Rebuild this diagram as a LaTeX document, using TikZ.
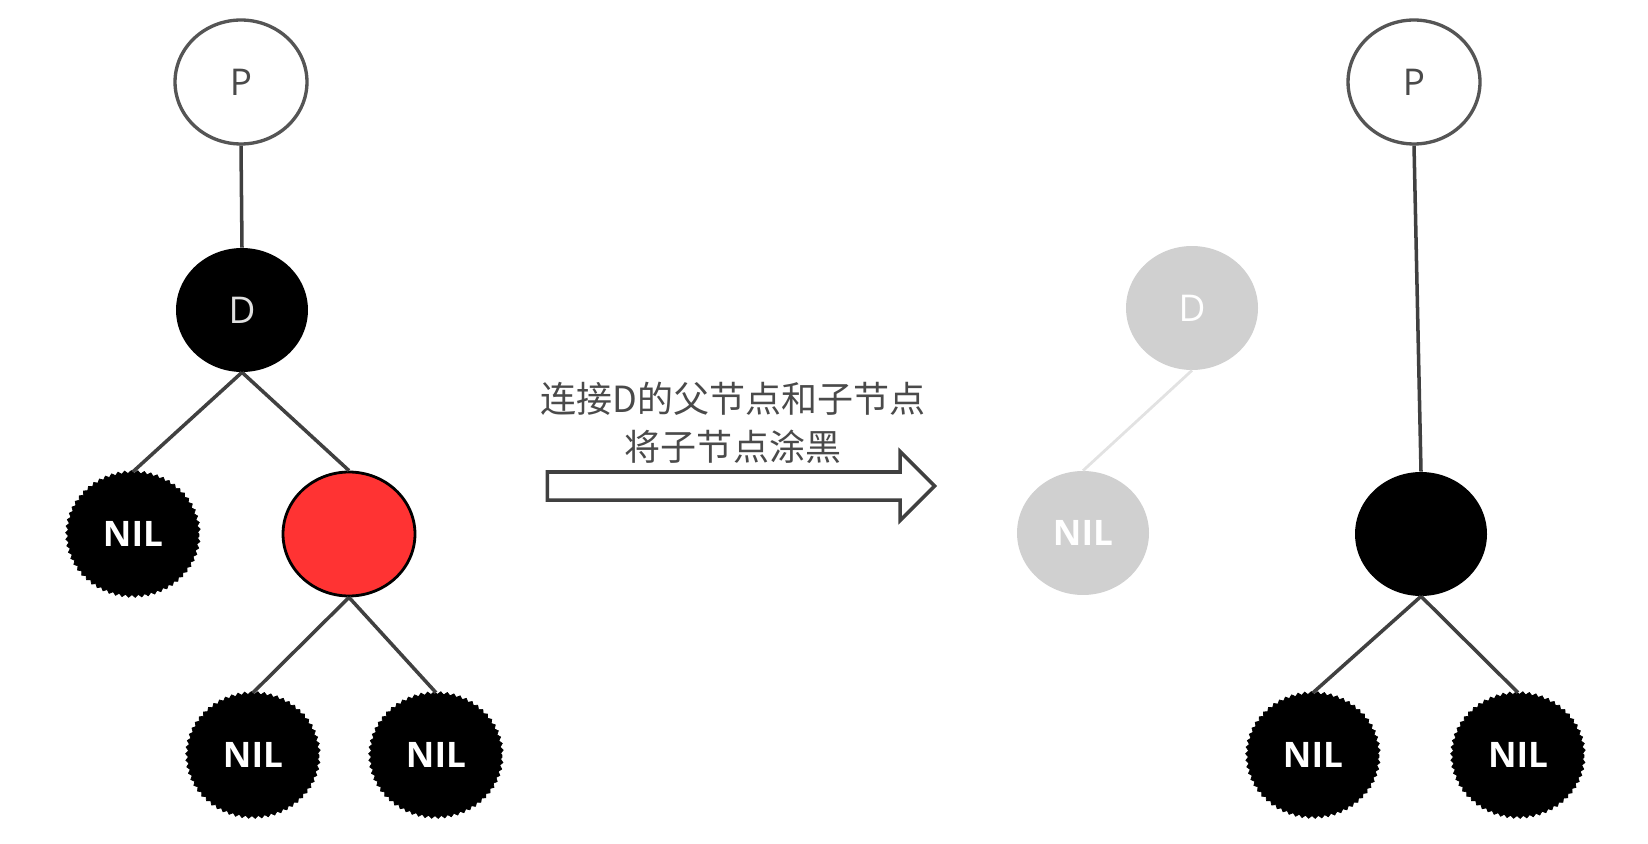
\documentclass[tikz,border=0pt]{standalone}
\usepackage{fontspec}
\newfontfamily\cjk{Noto Sans CJK SC}
\newfontfamily\lblfont{Open Sans}
\usetikzlibrary{shapes.geometric,shapes.arrows,decorations.pathmorphing}

\definecolor{edgegray}{HTML}{404040}
\definecolor{rimgray}{HTML}{555555}
\definecolor{nodered}{HTML}{FF3333}
\definecolor{fadegray}{HTML}{D0D0D0}
\definecolor{fadeline}{HTML}{E2E2E2}
\definecolor{txtgray}{HTML}{4A4A4A}

\tikzset{
  rbnode/.style={ellipse, minimum width=2.64cm, minimum height=2.48cm, inner sep=0pt,
    font=\lblfont\fontsize{21}{21}\selectfont},
  pnode/.style={rbnode, draw=rimgray, line width=1.9pt, fill=white, text=txtgray},
  blacknode/.style={rbnode, fill=black, text=white!88!black},
  rednode/.style={rbnode, draw=black, line width=1.6pt, fill=nodered},
  nilnode/.style={rbnode, fill=black, draw=black, text=white,
    font=\lblfont\bfseries\fontsize{20}{20}\selectfont,
    decorate, decoration={zigzag, segment length=1.3mm, amplitude=0.8pt}},
  ghost/.style={rbnode, fill=fadegray, text=white},
  link/.style={draw=edgegray, line width=2pt},
  ghostlink/.style={draw=fadeline, line width=1.6pt},
  blockarrow/.style={single arrow, draw=edgegray, line width=2pt, fill=white,
    minimum height=7.75cm, inner xsep=0pt, inner ysep=0.245cm,
    single arrow head extend=0.41cm}
}

\begin{document}
\begin{tikzpicture}[x=0.02cm, y=-0.02cm]
\useasboundingbox (0,0) rectangle (1648,844);

% left tree
\node[pnode] (p1) at (241,82) {P};
\node[blacknode] (d1) at (242,310) {D};
\node[nilnode] (nil1) at (133,534) {NIL};
\node[rednode] (red) at (349,534) {};
\node[nilnode] (nil2) at (253,755) {NIL};
\node[nilnode] (nil3) at (436,755) {NIL};

\draw[link] (p1.south)--(d1.north);
\draw[link] (d1.south)--(nil1.north);
\draw[link] (d1.south)--(red.north);
\draw[link] (red.south)--(nil2.north);
\draw[link] (red.south)--(nil3.north);

% arrow and text
\node[text=txtgray, align=center, font=\cjk\fontsize{20.5}{27}\selectfont] (txt) at (733,423)
  {连接D的父节点和子节点\\将子节点涂黑};
\node[blockarrow] (arr) at (734,486) {};

% removed part
\node[ghost] (d2) at (1192,308) {D};
\node[ghost, font=\lblfont\bfseries\fontsize{20}{20}\selectfont] (nil4) at (1083,533) {NIL};
\draw[ghostlink] (d2.south)--(nil4.north);

% right tree
\node[pnode] (p2) at (1414,82) {P};
\node[blacknode] (b2) at (1421,534) {};
\node[nilnode] (nil5) at (1313,755) {NIL};
\node[nilnode] (nil6) at (1518,755) {NIL};

\draw[link] (p2.south)--(b2.north);
\draw[link] (b2.south)--(nil5.north);
\draw[link] (b2.south)--(nil6.north);
\end{tikzpicture}
\end{document}
